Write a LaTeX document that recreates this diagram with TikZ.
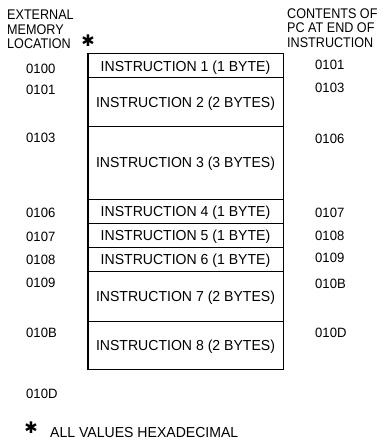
\documentclass[tikz,border=0pt]{standalone}
\usepackage{fontspec}
\setmainfont{Liberation Sans}[FakeStretch=0.97]
\newfontfamily\condfont{Liberation Sans}[FakeStretch=0.9]
\newfontfamily\symfont{DejaVu Sans}
\begin{document}
\begin{tikzpicture}[x=1pt,y=-1pt,
  every node/.style={inner sep=0pt, font=\fontsize{14.5}{15}\selectfont},
  lbl/.style={anchor=west, text height=10.4pt, text depth=0pt, font=\fontsize{13.5}{14}\selectfont},
  hdr/.style={anchor=north west, align=left, font=\condfont\fontsize{14}{14.3}\selectfont},
  row/.style={draw, line width=1pt, minimum width=195pt, text height=10.4pt, text depth=0pt},
  star/.style={font=\symfont\fontsize{16}{16}\selectfont}]
\useasboundingbox (0,0) rectangle (384,441);
% header texts
\node[hdr] (hl) at (7,10) {EXTERNAL\\MEMORY\\LOCATION};
\node[star] (st1) at (88,41) {✱};
\node[hdr] (hr) at (287,8.5) {CONTENTS OF\\PC AT END OF\\INSTRUCTION};
% instruction rows (top/bottom: 54,78,126,199,223,247,271,321,369)
\node[row, minimum height=24pt] (i1) at (185.5,66) {INSTRUCTION 1 (1 BYTE)};
\node[row, minimum height=48pt] (i2) at (185.5,102) {INSTRUCTION 2 (2 BYTES)};
\node[row, minimum height=73pt] (i3) at (185.5,162.5) {INSTRUCTION 3 (3 BYTES)};
\node[row, minimum height=24pt] (i4) at (185.5,211) {INSTRUCTION 4 (1 BYTE)};
\node[row, minimum height=24pt] (i5) at (185.5,235) {INSTRUCTION 5 (1 BYTE)};
\node[row, minimum height=24pt] (i6) at (185.5,259) {INSTRUCTION 6 (1 BYTE)};
\node[row, minimum height=50pt] (i7) at (185.5,296) {INSTRUCTION 7 (2 BYTES)};
\node[row, minimum height=48pt] (i8) at (185.5,345) {INSTRUCTION 8 (2 BYTES)};
\draw[line width=1.6pt] (i1.north west) rectangle (i8.south east);
% memory locations
\node[lbl] (a0) at (26,68) {0100};
\node[lbl] (a1) at (26,89) {0101};
\node[lbl] (a3) at (26,137) {0103};
\node[lbl] (a6) at (26,212) {0106};
\node[lbl] (a7) at (26,236) {0107};
\node[lbl] (a8) at (26,259) {0108};
\node[lbl] (a9) at (26,282) {0109};
\node[lbl] (ab) at (26,332) {010B};
\node[lbl] (ad) at (26,393) {010D};
% PC contents
\node[lbl] (p1) at (315,64) {0101};
\node[lbl] (p3) at (315,87) {0103};
\node[lbl] (p6) at (315,138) {0106};
\node[lbl] (p7) at (315,212) {0107};
\node[lbl] (p8) at (315,235) {0108};
\node[lbl] (p9) at (315,257) {0109};
\node[lbl] (pb) at (315,283) {010B};
\node[lbl] (pd) at (315,332) {010D};
% footnote
\node[star] (st2) at (31,428) {✱};
\node[lbl, font=\fontsize{14.5}{15}\selectfont] (fn) at (50,432) {ALL VALUES HEXADECIMAL};
\end{tikzpicture}
\end{document}
